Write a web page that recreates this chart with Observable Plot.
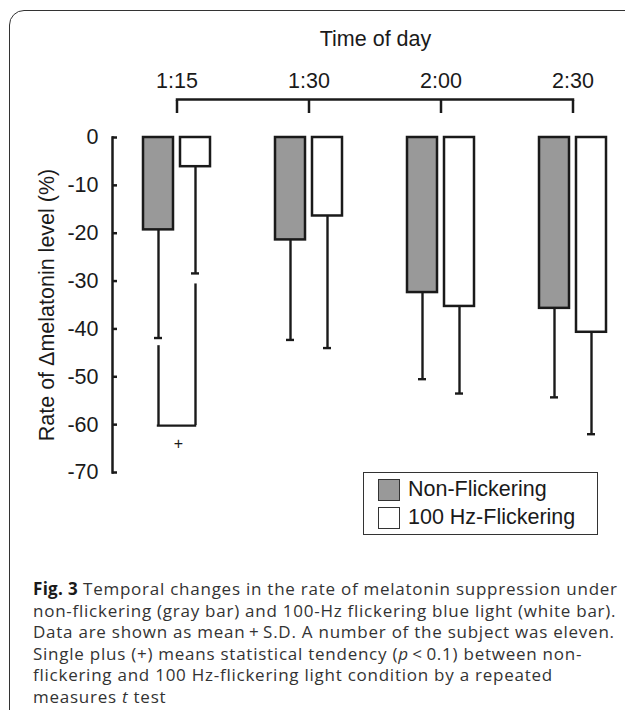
<!DOCTYPE html>
<html>
<head>
<meta charset="utf-8">
<script src="https://cdn.jsdelivr.net/npm/d3@7"></script>
<script src="https://cdn.jsdelivr.net/npm/@observablehq/plot@0.6"></script>
<style>
  html, body { margin: 0; padding: 0; background: #fff; overflow: hidden; width: 625px; height: 710px; }
  #frame { position: absolute; left: 9px; top: 10px; width: 720px; height: 800px; border: 1.5px solid #333; border-radius: 15px; box-sizing: border-box; }
  #chart { position: absolute; left: 0; top: 0; }
  #legend { position: absolute; left: 363px; top: 472px; width: 235px; height: 63px; border: 1.5px solid #333; box-sizing: border-box; background: #fff;
            font-family: "Liberation Sans", Arial, sans-serif; font-size: 21.5px; color: #1a1a1a; }
  .row { position: absolute; left: 14px; height: 22px; display: flex; align-items: center; white-space: nowrap; }
  .sw { width: 22px; height: 22px; box-sizing: border-box; border: 1.5px solid #333; margin-right: 8px; }
  #caption { position: absolute; left: 33px; top: 578px; font-family: "Open Sans", "Noto Sans", sans-serif; font-size: 17px; letter-spacing: 0.75px; line-height: 21.5px; color: #333; white-space: nowrap; }
  #caption b { color: #1a1a1a; letter-spacing: 0.3px; }
</style>
</head>
<body>
<div id="frame"></div>
<div id="chart"></div>
<div id="legend"></div>
<div id="caption"></div>
<script>
// ---- data ----
const times = ["1:15", "1:30", "2:00", "2:30"];
const conditions = ["Non-Flickering", "100 Hz-Flickering"];
const conditionFills = ["#999999", "#ffffff"];
const nonMean = [-19.3, -21.4, -32.4, -35.7];
const nonSD = [22.6, 20.9, 18.1, 18.6];
const flickMean = [-6.1, -16.4, -35.3, -40.7];
const flickSD = [22.3, 27.6, 18.2, 21.3];
const yTicks = [0, -10, -20, -30, -40, -50, -60, -70];
const sigTime = "1:15";
const sigLevel = -60.2;
const sigNonStart = -43.5;
const sigFlickStart = -30.6;
const sigLabel = "+";
const sigLabelY = -64;
const xTitle = "Time of day";
const yTitle = "Rate of \u0394melatonin level (%)";
const captionLines = [
  "<b>Fig. 3</b> Temporal changes in the rate of melatonin suppression under",
  "non-flickering (gray bar) and 100-Hz flickering blue light (white bar).",
  "Data are shown as mean\u2009+\u2009S.D. A number of the subject was eleven.",
  "Single plus (+) means statistical tendency (<i>p</i>\u2009<\u20090.1) between non-",
  "flickering and 100 Hz-flickering light condition by a repeated",
  "measures <i>t</i> test"
];

// ---- tables ----
const non = times.map((t, i) => ({time: t, mean: nonMean[i], low: nonMean[i] - nonSD[i]}));
const flick = times.map((t, i) => ({time: t, mean: flickMean[i], low: flickMean[i] - flickSD[i]}));
const sig = [{time: sigTime, level: sigLevel, nonStart: sigNonStart, flickStart: sigFlickStart, labelY: sigLabelY, label: sigLabel}];

// ---- layout ----
const W = 625, H = 480, ML = 112, MR = 0, MT = 137, MB = 8;
const plotW = W - ML - MR;
const ink = "#1a1a1a";

const chart = Plot.plot({
  width: W, height: H,
  marginLeft: ML, marginRight: MR, marginTop: MT, marginBottom: MB,
  style: {fontFamily: "'Liberation Sans', Arial, Helvetica, sans-serif", fontSize: "21.5px", color: ink, background: "transparent", overflow: "visible"},
  x: {domain: times, paddingInner: 0.4932, paddingOuter: 0.187, align: 0.628},
  y: {domain: [-70, 0]},
  marks: [
    // top "time of day" bracket axis
    Plot.axisX({anchor: "top", tickSize: 13, dy: -25, tickPadding: 12, stroke: ink, strokeWidth: 2.5, label: null}),
    Plot.line([times[0], times[times.length - 1]], {x: d => d, y: () => 0, dy: -38, stroke: ink, strokeWidth: 2.5, strokeLinecap: "square"}),
    Plot.text([xTitle], {frameAnchor: "top", dy: -92, dx: 6.5, lineAnchor: "bottom", fill: ink}),
    // bars
    Plot.barY(non, {x: "time", y: "mean", fill: conditionFills[0], stroke: ink, strokeWidth: 2.5, insetRight: 37}),
    Plot.barY(flick, {x: "time", y: "mean", fill: conditionFills[1], stroke: ink, strokeWidth: 2.5, insetLeft: 37}),
    // error bars
    Plot.ruleX(non, {x: "time", y1: "mean", y2: "low", dx: -18.5, stroke: ink, strokeWidth: 2.4}),
    Plot.tickY(non, {x: "time", y: "low", insetLeft: 11, insetRight: 48, stroke: ink, strokeWidth: 2.4}),
    Plot.ruleX(flick, {x: "time", y1: "mean", y2: "low", dx: 18.5, stroke: ink, strokeWidth: 2.4}),
    Plot.tickY(flick, {x: "time", y: "low", insetLeft: 48, insetRight: 11, stroke: ink, strokeWidth: 2.4}),
    // significance bracket
    Plot.ruleX(sig, {x: "time", y1: "nonStart", y2: "level", dx: -18.5, stroke: ink, strokeWidth: 2.4}),
    Plot.ruleX(sig, {x: "time", y1: "flickStart", y2: "level", dx: 18.5, stroke: ink, strokeWidth: 2.4}),
    Plot.tickY(sig, {x: "time", y: "level", insetLeft: 15, insetRight: 15, stroke: ink, strokeWidth: 2.4, strokeLinecap: "square"}),
    Plot.text(sig, {x: "time", y: "labelY", text: "label", dx: 1.5, fontSize: 16, fill: ink}),
    // y axis
    Plot.axisY(yTicks, {tickSize: 0, tickPadding: 14, tickFormat: d => String(d), label: null, fill: ink}),
    Plot.tickY(yTicks, {y: d => d, insetRight: plotW - 5, stroke: ink, strokeWidth: 2.5}),
    Plot.frame({anchor: "left", stroke: ink, strokeWidth: 2.5}),
    Plot.text([yTitle], {frameAnchor: "left", dx: -65, rotate: -90, textAnchor: "middle", lineAnchor: "middle", fill: ink})
  ]
});
document.getElementById("chart").appendChild(chart);

// ---- legend ----
const legend = document.getElementById("legend");
conditions.forEach((c, i) => {
  const row = document.createElement("div");
  row.className = "row";
  row.style.top = (5.5 + i * 28) + "px";
  const sw = document.createElement("div");
  sw.className = "sw";
  sw.style.background = conditionFills[i];
  row.appendChild(sw);
  const label = document.createElement("span");
  label.textContent = c;
  row.appendChild(label);
  legend.appendChild(row);
});

// ---- caption ----
document.getElementById("caption").innerHTML = captionLines.join("<br>");
</script>
</body>
</html>
